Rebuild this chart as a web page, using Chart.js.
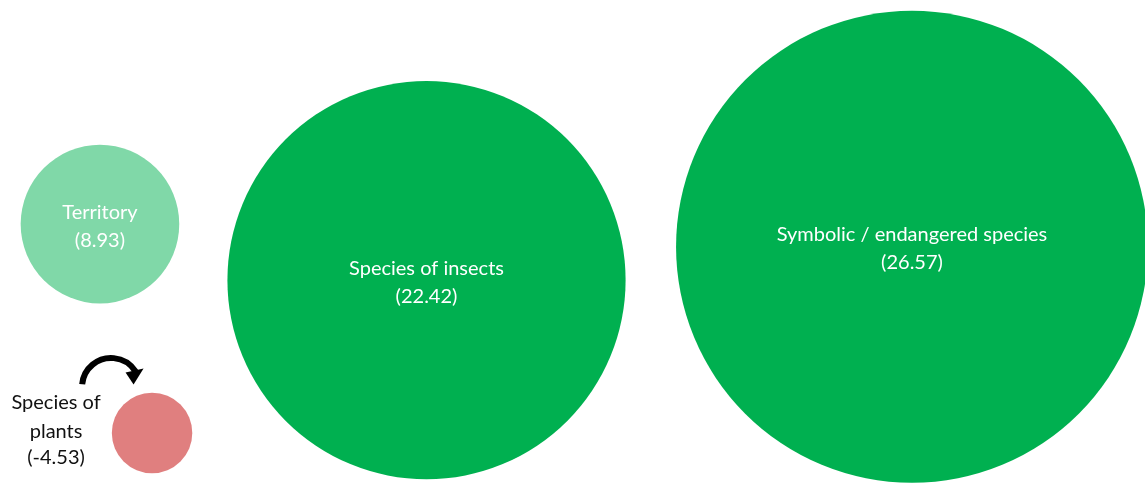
<!DOCTYPE html>
<html>
<head>
<meta charset="utf-8">
<script src="https://cdn.jsdelivr.net/npm/chart.js@4"></script>
<style>
  html, body { margin: 0; padding: 0; background: #fff; }
  #wrap { width: 1145px; height: 483px; }
</style>
</head>
<body>
<div id="wrap"><canvas id="bubbleChart" width="1145" height="483"></canvas></div>
<script>
// Data
var labels = ['Territory', 'Species of insects', 'Symbolic / endangered species', 'Species of plants'];
var values = [8.93, 22.42, 26.57, -4.53];
// layout position of each bubble (0-100 on both axes)
var posX = [8.73, 37.25, 79.65, 13.28];
var posY = [53.6, 42.0, 48.9, 10.35];
var colors = ['#80d8a8', '#00b050', '#00b050', '#e07f7f'];
var textColors = ['#ffffff', '#ffffff', '#ffffff', '#111111'];

var pxPerUnit = 8.88;

// labels inside the bubbles, plants label to the left plus the curved arrow
var bubbleLabels = {
  id: 'bubbleLabels',
  afterDatasetsDraw: function(chart) {
    var ctx = chart.ctx;
    var meta = chart.getDatasetMeta(0);
    ctx.save();
    ctx.font = '20px Lato, "Open Sans", sans-serif';
    ctx.textAlign = 'center';
    ctx.textBaseline = 'middle';
    meta.data.forEach(function(el, i) {
      var v = values[i];
      ctx.fillStyle = textColors[i];
      var txt = '(' + v.toFixed(2) + ')';
      if (v < 0) {
        var tx = el.x - 96;
        ctx.fillText('Species of', tx, el.y - 30);
        ctx.fillText('plants', tx, el.y - 1);
        ctx.fillText(txt, tx, el.y + 25);

        // curved arrow
        var cx = el.x - 41, cy = el.y - 46, r = 29;
        ctx.strokeStyle = '#000';
        ctx.lineWidth = 6;
        ctx.beginPath();
        ctx.arc(cx, cy, r, Math.PI * 1.03, Math.PI * 1.82);
        ctx.stroke();
        var a = Math.PI * 1.82;
        var ex = cx + r * Math.cos(a), ey = cy + r * Math.sin(a);
        ctx.fillStyle = '#000';
        ctx.beginPath();
        ctx.moveTo(ex + 8, ey - 3);
        ctx.lineTo(ex - 2, ey + 13);
        ctx.lineTo(ex - 10, ey + 1);
        ctx.closePath();
        ctx.fill();
      } else {
        ctx.fillText(labels[i], el.x, el.y - 12);
        ctx.fillText(txt, el.x, el.y + 16);
      }
    });
    ctx.restore();
  }
};

var points = values.map(function(v, i) {
  return { x: posX[i], y: posY[i], r: Math.abs(v) * pxPerUnit };
});

var chart = new Chart(document.getElementById('bubbleChart').getContext('2d'), {
  type: 'bubble',
  data: {
    labels: labels,
    datasets: [{
      data: points,
      backgroundColor: colors,
      borderWidth: 0,
      hoverBorderWidth: 0,
      clip: false
    }]
  },
  options: {
    responsive: false,
    animation: false,
    layout: { padding: 0, autoPadding: false },
    scales: {
      x: { display: false, min: 0, max: 100 },
      y: { display: false, min: 0, max: 100 }
    },
    plugins: {
      legend: { display: false },
      tooltip: { enabled: false }
    }
  },
  plugins: [bubbleLabels]
});
</script>
</body>
</html>
